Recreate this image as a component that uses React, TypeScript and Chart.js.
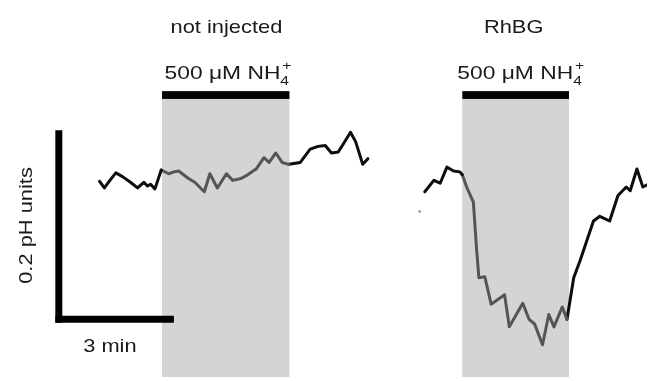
import React, { useEffect, useRef } from "react";
import { Chart, registerables } from "chart.js";

Chart.register(...registerables);

// ---- Data (time in min, pH change relative to scale-bar baseline) ----
const notInjBeforeTime = [2.42, 2.54, 2.7, 2.83, 3.0, 3.2, 3.38, 3.54, 3.63, 3.71, 3.82, 3.98];
const notInjBeforePH = [0.146, 0.139, 0.148, 0.155, 0.151, 0.145, 0.139, 0.145, 0.141, 0.143, 0.138, 0.158];
const notInjDuringTime = [3.98, 4.17, 4.3, 4.42, 4.67, 4.83, 5.07, 5.21, 5.4, 5.63, 5.79, 6.0, 6.13, 6.38, 6.58, 6.71, 6.88, 7.04, 7.21];
const notInjDuringPH = [0.158, 0.154, 0.156, 0.157, 0.149, 0.145, 0.135, 0.154, 0.139, 0.154, 0.147, 0.149, 0.152, 0.159, 0.171, 0.166, 0.176, 0.166, 0.164];
const notInjAfterTime = [7.21, 7.5, 7.75, 7.95, 8.13, 8.29, 8.46, 8.58, 8.77, 8.9, 9.08, 9.21];
const notInjAfterPH = [0.164, 0.166, 0.18, 0.183, 0.184, 0.176, 0.177, 0.185, 0.198, 0.188, 0.164, 0.17];

const rhbgBeforeTime = [10.65, 10.88, 11.04, 11.21, 11.38, 11.54, 11.6];
const rhbgBeforePH = [0.135, 0.147, 0.144, 0.161, 0.157, 0.156, 0.153];
const rhbgDuringTime = [11.6, 11.71, 11.88, 11.96, 12.02, 12.17, 12.33, 12.67, 12.79, 13.13, 13.29, 13.43, 13.63, 13.79, 13.92, 14.13, 14.25];
const rhbgDuringPH = [0.153, 0.14, 0.124, 0.075, 0.044, 0.045, 0.016, 0.026, -0.008, 0.017, 0.0, -0.005, -0.027, 0.005, -0.008, 0.013, 0.0];
const rhbgAfterTime = [14.25, 14.42, 14.58, 14.92, 15.08, 15.33, 15.54, 15.75, 15.85, 16.02, 16.17, 16.4];
const rhbgAfterPH = [0.0, 0.044, 0.062, 0.104, 0.109, 0.104, 0.131, 0.14, 0.136, 0.159, 0.14, 0.145];

const strayTime = [10.52];
const strayPH = [0.114];

// NH4+ exposure periods (min)
const exposureStart = [4.0, 11.6];
const exposureEnd = [7.225, 14.3];
const panelTitles = ["not injected", "RhBG"];
const panelCenters = [5.63, 12.9];
const exposureLabelCenters = [5.64, 13.05];

// Scale bars
const scaleBarTime = [1.3, 4.3]; // 3 min
const scaleBarPH = [0, 0.2]; // 0.2 pH units
const scaleBarX = 1.3875;

const X_MIN = 0;
const X_MAX = 16.275;
const Y_MIN = -0.0611;
const Y_MAX = 0.3337;

const BAR_TOP = 0.2415;
const BAR_BOTTOM = 0.2332;

const FONT = '"Liberation Sans", Arial, sans-serif';
const HS = 1.15;

const zip = (t: number[], v: number[]) => t.map((x, i) => ({ x, y: v[i] }));

function drawLabel(ctx: CanvasRenderingContext2D, text: string, cx: number, base: number, size: number) {
  ctx.save();
  ctx.translate(cx, base);
  ctx.scale(HS, 1);
  ctx.font = `${size}px ${FONT}`;
  ctx.textAlign = "center";
  ctx.textBaseline = "alphabetic";
  ctx.fillText(text, 0, 0);
  ctx.restore();
}

function drawNH4(ctx: CanvasRenderingContext2D, cx: number, base: number) {
  const hs = 1.2;
  ctx.save();
  ctx.font = `19px ${FONT}`;
  const w1 = ctx.measureText("500 \u03BCM NH").width;
  ctx.font = `13px ${FONT}`;
  const w2 = ctx.measureText("4").width;
  const total = (w1 + w2) * hs;
  ctx.translate(cx - total / 2, base);
  ctx.scale(hs, 1);
  ctx.textAlign = "left";
  ctx.textBaseline = "alphabetic";
  ctx.font = `19px ${FONT}`;
  ctx.fillText("500 \u03BCM NH", 0, 0);
  ctx.font = `13px ${FONT}`;
  ctx.fillText("4", w1, 6);
  ctx.fillText("+", w1 + 1.5, -9);
  ctx.restore();
}

const figurePlugin = {
  id: "figureDecor",
  beforeDatasetsDraw(chart: any) {
    const { ctx, scales } = chart;
    const xs = scales.x;
    const ys = scales.y;
    ctx.save();
    for (let i = 0; i < exposureStart.length; i++) {
      const x0 = xs.getPixelForValue(exposureStart[i]);
      const x1 = xs.getPixelForValue(exposureEnd[i]);
      const yb = ys.getPixelForValue(BAR_BOTTOM);
      const yt = ys.getPixelForValue(BAR_TOP);
      const yEnd = ys.getPixelForValue(Y_MIN);
      ctx.fillStyle = "#d4d4d4";
      ctx.fillRect(x0, yb, x1 - x0, yEnd - yb);
      ctx.fillStyle = "#050505";
      ctx.fillRect(x0, yt, x1 - x0, yb - yt);
    }
    ctx.restore();
  },
  afterDraw(chart: any) {
    const { ctx, scales } = chart;
    const xs = scales.x;
    ctx.save();
    ctx.fillStyle = "#1a1a1a";
    for (let i = 0; i < panelTitles.length; i++) {
      drawLabel(ctx, panelTitles[i], xs.getPixelForValue(panelCenters[i]), 33, 19);
      drawNH4(ctx, xs.getPixelForValue(exposureLabelCenters[i]), 79);
    }
    drawLabel(ctx, "3 min", xs.getPixelForValue(2.68), 352, 19);
    ctx.save();
    ctx.translate(32, 225.5);
    ctx.rotate(-Math.PI / 2);
    drawLabel(ctx, "0.2 pH units", 0, 0, 19);
    ctx.restore();
    ctx.restore();
  },
};

export default function App() {
  const ref = useRef<HTMLCanvasElement | null>(null);

  useEffect(() => {
    document.body.style.margin = "0";
    const canvas = ref.current;
    if (!canvas) return;
    const black = "#0d0d0d";
    const gray = "#555555";
    const trace = (data: any[], color: string) => ({
      data,
      borderColor: color,
      borderWidth: 3,
      pointRadius: 0,
      tension: 0,
      fill: false,
      borderJoinStyle: "round" as const,
      borderCapStyle: "round" as const,
    });
    const chart = new Chart(canvas, {
      type: "line",
      data: {
        datasets: [
          trace(zip(notInjBeforeTime, notInjBeforePH), black),
          trace(zip(notInjDuringTime, notInjDuringPH), gray),
          trace(zip(notInjAfterTime, notInjAfterPH), black),
          trace(zip(rhbgBeforeTime, rhbgBeforePH), black),
          trace(zip(rhbgDuringTime, rhbgDuringPH), gray),
          trace(zip(rhbgAfterTime, rhbgAfterPH), black),
          {
            data: zip(strayTime, strayPH),
            showLine: false,
            pointRadius: 1.3,
            pointBackgroundColor: "#888",
            pointBorderWidth: 0,
          },
          {
            data: [
              { x: scaleBarX, y: -0.0036 },
              { x: scaleBarX, y: scaleBarPH[1] },
            ],
            borderColor: "#000",
            borderWidth: 7,
            pointRadius: 0,
            borderCapStyle: "butt",
          },
          {
            data: [
              { x: scaleBarTime[0], y: scaleBarPH[0] },
              { x: scaleBarTime[1], y: scaleBarPH[0] },
            ],
            borderColor: "#000",
            borderWidth: 7,
            pointRadius: 0,
            borderCapStyle: "butt",
          },
        ] as any,
      },
      options: {
        animation: false,
        responsive: false,
        maintainAspectRatio: false,
        layout: { padding: 0 },
        plugins: { legend: { display: false }, tooltip: { enabled: false } },
        scales: {
          x: { type: "linear", min: X_MIN, max: X_MAX, display: false },
          y: { type: "linear", min: Y_MIN, max: Y_MAX, display: false },
        },
      },
      plugins: [figurePlugin],
    });
    return () => chart.destroy();
  }, []);

  return (
    <div style={{ width: 651, height: 381, background: "#fff" }}>
      <canvas ref={ref} width={651} height={381} style={{ display: "block" }} />
    </div>
  );
}
